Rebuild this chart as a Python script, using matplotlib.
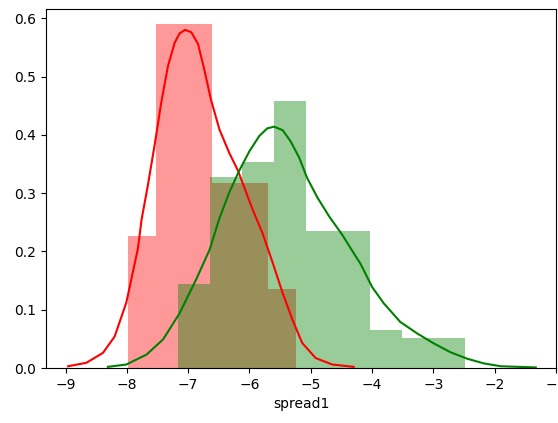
import numpy as np
import matplotlib
matplotlib.use("Agg")
import matplotlib.pyplot as plt

# histogram counts (density = count / (n * bin width))
red_counts = [5, 13, 13, 7, 7, 3]
red_range = (-7.99, -5.24)
green_counts = [11, 25, 27, 35, 18, 18, 5, 4, 4]
green_range = (-7.16, -2.48)

# kde curves
red_kde_x = [-8.96, -8.66, -8.39, -8.20, -8.01, -7.82, -7.76, -7.66, -7.55, -7.44,
             -7.33, -7.22, -7.14, -7.05, -6.95, -6.84, -6.74, -6.63, -6.49, -6.33,
             -6.19, -5.95, -5.79, -5.62, -5.46, -5.30, -5.14, -4.92, -4.65, -4.30]
red_kde_y = [0.003, 0.009, 0.026, 0.054, 0.112, 0.205, 0.255, 0.312, 0.381, 0.455,
             0.518, 0.558, 0.574, 0.580, 0.576, 0.556, 0.513, 0.461, 0.409, 0.369,
             0.339, 0.272, 0.232, 0.180, 0.129, 0.083, 0.043, 0.017, 0.006, 0.002]
green_kde_x = [-8.31, -8.01, -7.68, -7.41, -7.14, -6.87, -6.65, -6.49, -6.33, -6.17,
               -6.00, -5.84, -5.71, -5.60, -5.46, -5.33, -5.19, -5.06, -4.89, -4.70,
               -4.49, -4.27, -4.19, -4.00, -3.81, -3.54, -3.26, -2.99, -2.72, -2.45,
               -2.18, -1.90, -1.33]
green_kde_y = [0.002, 0.006, 0.023, 0.049, 0.094, 0.152, 0.203, 0.257, 0.301, 0.338,
               0.372, 0.398, 0.411, 0.414, 0.408, 0.389, 0.361, 0.326, 0.292, 0.260,
               0.229, 0.192, 0.179, 0.139, 0.111, 0.079, 0.059, 0.042, 0.027, 0.016,
               0.008, 0.003, 0.001]

fig = plt.figure(figsize=(5.58, 4.23), dpi=100)
ax = fig.add_axes([0.0824, 0.130, 0.914, 0.849])


def draw_hist(counts, rng, color):
    counts = np.array(counts, dtype=float)
    edges = np.linspace(rng[0], rng[1], len(counts) + 1)
    width = edges[1] - edges[0]
    dens = counts / (counts.sum() * width)
    ax.bar(edges[:-1], dens, width=width, align='edge', color=color,
           alpha=0.4, linewidth=0)


draw_hist(red_counts, red_range, 'red')
ax.plot(red_kde_x, red_kde_y, color='red', lw=1.5, solid_joinstyle='round')
draw_hist(green_counts, green_range, 'green')
ax.plot(green_kde_x, green_kde_y, color='green', lw=1.5, solid_joinstyle='round')

ax.set_xlim(-9.32, -1.02)
ax.set_ylim(0, 0.616)
ax.set_xticks(range(-9, 0))
ax.set_yticks([0.0, 0.1, 0.2, 0.3, 0.4, 0.5, 0.6])
ax.set_xlabel("spread1")

fig.savefig("out.png", dpi=100)
